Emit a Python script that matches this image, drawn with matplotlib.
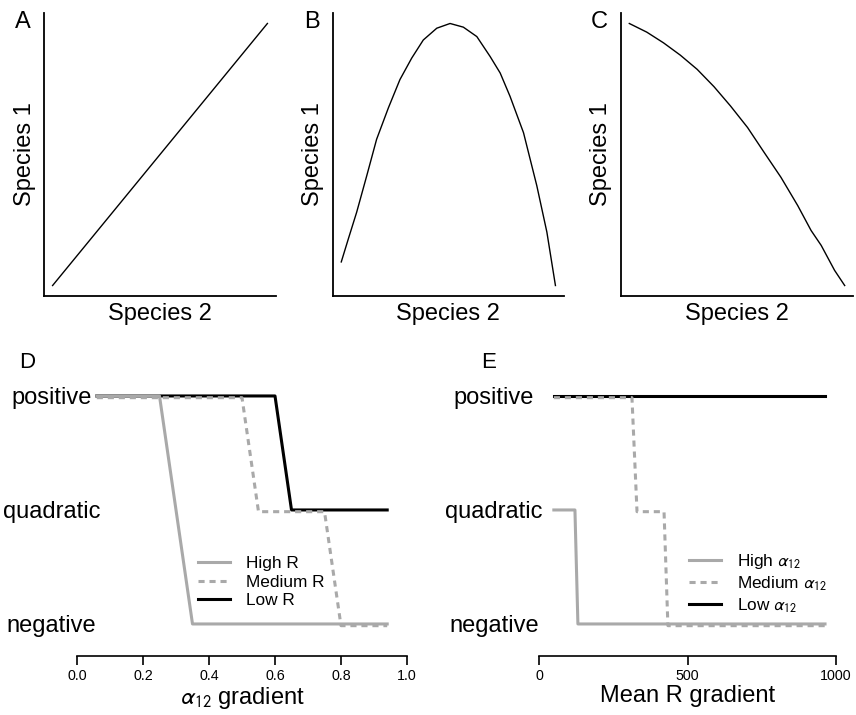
import numpy as np
import matplotlib.pyplot as plt
from matplotlib.lines import Line2D

plt.rcParams['font.family'] = ['Liberation Sans', 'DejaVu Sans']
plt.rcParams['mathtext.fontset'] = 'stixsans'

W, H = 856, 715

# top row: shape of the species 1 vs species 2 relationship
a_x = [0, 1]
a_y = [0, 1]

b_x = [0.0, 0.033, 0.072, 0.119, 0.165, 0.22, 0.274, 0.329, 0.383, 0.446, 0.508,
       0.57, 0.633, 0.695, 0.742, 0.788, 0.851, 0.913, 0.96, 1.0]
b_y = [0.09, 0.178, 0.28, 0.419, 0.558, 0.678, 0.786, 0.868, 0.937, 0.982, 1.0,
       0.986, 0.95, 0.874, 0.811, 0.722, 0.583, 0.381, 0.204, 0.0]

c_x = [0.0, 0.081, 0.159, 0.237, 0.315, 0.393, 0.47, 0.549, 0.626, 0.704, 0.782,
       0.844, 0.891, 0.953, 1.0]
c_y = [1.0, 0.967, 0.926, 0.879, 0.825, 0.759, 0.685, 0.603, 0.508, 0.413, 0.305,
       0.21, 0.153, 0.058, 0.0]

# bottom row: 0 = negative, 1 = quadratic, 2 = positive
levels = ['negative', 'quadratic', 'positive']

d_high_x = [0.06, 0.25, 0.35, 0.94]
d_high_y = [2, 2, 0, 0]
d_med_x = [0.06, 0.50, 0.55, 0.75, 0.80, 0.94]
d_med_y = [1.985, 1.985, 0.985, 0.985, -0.015, -0.015]
d_low_x = [0.06, 0.60, 0.65, 0.94]
d_low_y = [2, 2, 1, 1]

e_high_x = [50, 121, 131, 963]
e_high_y = [1, 1, 0, 0]
e_med_x = [50, 313, 330, 421, 434, 963]
e_med_y = [1.985, 1.985, 0.985, 0.985, -0.015, -0.015]
e_low_x = [50, 963]
e_low_y = [2, 2]

gray = '#a9a9a9'


def px_axes(fig, left, top, right, bottom):
    return fig.add_axes([left / W, 1 - bottom / H, (right - left) / W, (bottom - top) / H])


fig = plt.figure(figsize=(W / 100, H / 100), dpi=100)

tops = [(44, 276, 'A', a_x, a_y), (332.7, 564, 'B', b_x, b_y), (620.7, 853.3, 'C', c_x, c_y)]
for left, right, letter, xs, ys in tops:
    ax = px_axes(fig, left, 13, right, 296)
    ax.plot(xs, ys, color='black', lw=1.0)
    ax.margins(0.04)
    ax.spines[['top', 'right']].set_visible(False)
    for s in ['left', 'bottom']:
        ax.spines[s].set_linewidth(1.3)
    ax.set_xticks([])
    ax.set_yticks([])
    ax.set_xlabel('Species 2', fontsize=17, labelpad=5)
    ax.set_ylabel('Species 1', fontsize=17, labelpad=6)
    fig.text((left - 21) / W, 1 - 22 / H, letter, fontsize=17, ha='center', va='center')


def bottom_panel(left, right, xlim, xticks, xticklabels, xlabel, series, leg_labels,
                 leg_xy, letter, level_pad):
    ax = px_axes(fig, left, 380, right, 656)
    ax.set_xlim(*xlim)
    ax.set_ylim(-0.281, 2.14)
    styles = [dict(color='black', ls='-'),
              dict(color=gray, ls=(0, (2, 1.6))),
              dict(color=gray, ls='-')]
    handles = []
    for (xs, ys), st in zip(series, styles):
        ax.plot(xs, ys, lw=2.2, **st)
        handles.append(Line2D([], [], lw=2.2, **st))
    ax.spines[['top', 'right', 'left']].set_visible(False)
    ax.spines['bottom'].set_linewidth(1.2)
    ax.set_xticks(xticks, xticklabels, fontsize=10.3)
    ax.tick_params(axis='x', direction='out', length=6.5, width=1.2, pad=3)
    ax.set_yticks([0, 1, 2], levels, fontsize=17)
    ax.tick_params(axis='y', length=0, pad=level_pad)
    for t in ax.get_yticklabels():
        t.set_ha('center')
    ax.set_xlabel(xlabel, fontsize=17, labelpad=1)
    # legend order: high, medium, low
    ax.legend(handles[::-1], leg_labels, loc='upper left',
              bbox_to_anchor=(leg_xy[0] / W, 1 - leg_xy[1] / H),
              bbox_transform=fig.transFigure, frameon=False, borderpad=0,
              borderaxespad=0, handlelength=1.86, handletextpad=0.93,
              labelspacing=0.2, fontsize=12.4)
    fig.text((left - 50) / W, 1 - 362 / H, letter, fontsize=16, ha='center', va='center')
    return ax


bottom_panel(77, 407, (0, 1), [0, 0.2, 0.4, 0.6, 0.8, 1.0],
             ['0.0', '0.2', '0.4', '0.6', '0.8', '1.0'], r'$\alpha_{12}$ gradient',
             [(d_low_x, d_low_y), (d_med_x, d_med_y), (d_high_x, d_high_y)],
             ['High R', 'Medium R', 'Low R'], (198, 556), 'D', 18.5)

bottom_panel(539, 836, (0, 1000), [0, 500, 1000], ['0', '500', '1000'],
             'Mean R gradient',
             [(e_low_x, e_low_y), (e_med_x, e_med_y), (e_high_x, e_high_y)],
             [r'High $\alpha_{12}$', r'Medium $\alpha_{12}$', r'Low $\alpha_{12}$'],
             (689, 552), 'E', 32.4)

fig.savefig('out.png', dpi=100)
